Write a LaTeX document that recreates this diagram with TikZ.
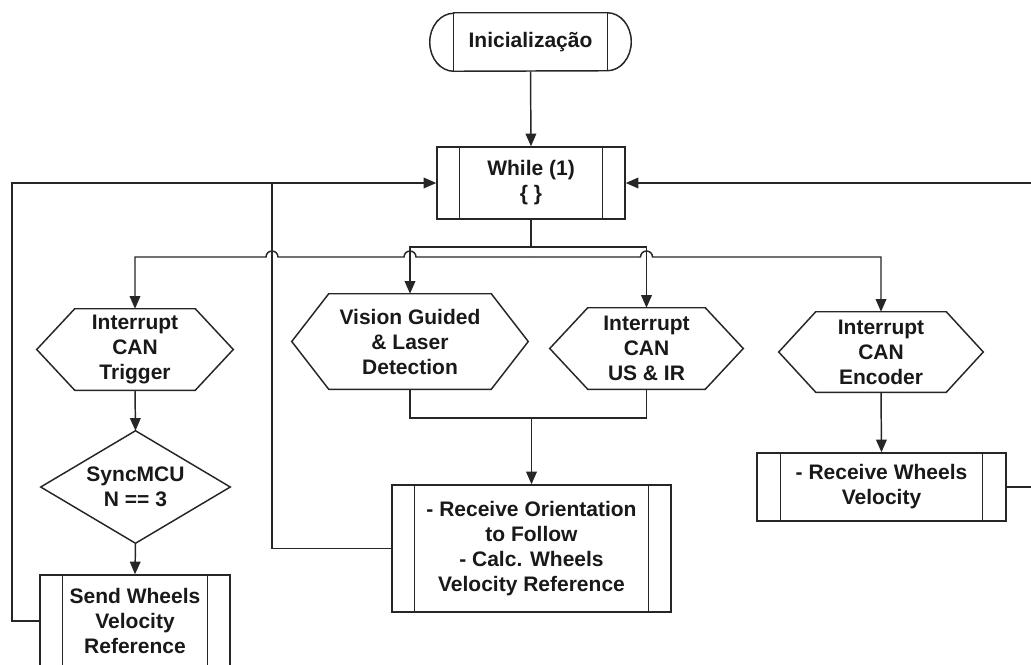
\documentclass[tikz,border=0pt]{standalone}
\usepackage{fontspec}
\setmainfont{Liberation Sans}
\usetikzlibrary{arrows.meta,calc}
\tikzset{
  ln/.style={line width=1.1pt, draw=black!85},
  arr/.style={ln, -{Triangle[length=9.5pt,width=8pt]}},
  txt/.style={inner sep=0pt, align=center, text=black!90,
    font=\fontsize{15.75pt}{18.75pt}\selectfont\bfseries},
  proc/.style={txt, rectangle, ln},
  blank/.style={txt, rectangle, draw=none},
}
\newcommand{\hexa}[2]{\draw[ln] (#1.west) -- ($(#1.north west)+(#2,0)$) -- ($(#1.north east)+(-#2,0)$) -- (#1.east) -- ($(#1.south east)+(-#2,0)$) -- ($(#1.south west)+(#2,0)$) -- cycle;}
\newcommand{\inner}[2]{\draw[ln] ($(#1.north west)+(#2,0)$) -- ($(#1.south west)+(#2,0)$) ($(#1.north east)+(-#2,0)$) -- ($(#1.south east)+(-#2,0)$);}
\begin{document}
\begin{tikzpicture}[x=0.75pt,y=-0.75pt]
\useasboundingbox (0,0) rectangle (1031,664);
\clip (0,0) rectangle (1031,664);
\fill[white] (0,0) rectangle (1031,664);

% nodes
\node[blank, minimum width=150.75pt, minimum height=43.5pt] (init) at (530.5,42) {Inicialização};
\node[proc, minimum width=141pt, minimum height=54pt] (while) at (531,183) {While (1)\\\{ \}};
\node[blank, minimum width=147pt, minimum height=60.75pt] (trig) at (135,349.5) {Interrupt\\CAN\\Trigger};
\node[blank, minimum width=177pt, minimum height=71.25pt] (vis) at (410,341.5) {Vision Guided\\\& Laser\\Detection};
\node[blank, minimum width=144.75pt, minimum height=60.75pt] (us) at (646.5,348.5) {Interrupt\\CAN\\US \& IR};
\node[blank, minimum width=153pt, minimum height=60pt] (enc) at (881,352) {Interrupt\\CAN\\Encoder};
\node[blank, minimum width=141.75pt, minimum height=84pt] (dia) at (135.5,487) {SyncMCU\\N == 3};
\node[proc, minimum width=142.5pt, minimum height=69pt] (send) at (135,621) {Send Wheels\\Velocity\\Reference};
\node[proc, minimum width=209.25pt, minimum height=95.25pt] (calc) at (531.5,548.5) {- Receive Orientation\\to Follow\\- Calc. Wheels\\Velocity Reference};
\node[proc, minimum width=186.75pt, minimum height=51pt] (recv) at (881.5,487) {- Receive Wheels\\Velocity};

% shapes
\draw[ln] ($(init.north west)+(24,0)$) -- ($(init.north east)+(-24,0)$)
  arc[start angle=-90,end angle=90,x radius=24,y radius=29]
  -- ($(init.south west)+(24,0)$)
  arc[start angle=90,end angle=270,x radius=24,y radius=29] -- cycle;
\draw[ln] ($(init.north west)+(24,0)$) -- ($(init.south west)+(24,0)$)
  ($(init.north east)+(-24,0)$) -- ($(init.south east)+(-24,0)$);
\inner{while}{23}
\inner{send}{23}
\inner{calc}{23}
\inner{recv}{24}
\hexa{trig}{38}
\hexa{vis}{37}
\hexa{us}{38}
\hexa{enc}{37}
\draw[ln] (dia.north) -- (dia.east) -- (dia.south) -- (dia.west) -- cycle;

% coordinates
\coordinate (split) at (531,247);
\coordinate (bus) at (531,257);
\coordinate (join) at (531.5,418);
\coordinate (ret) at (272,183);
\coordinate (lret) at (12,183);
\coordinate (rret) at (1040,183);

% connectors
\draw[arr] (init.south) -- (while.north);
\draw[ln] (while.south) -- (split);
\draw[arr] (split) -| (vis.north);
\draw[arr] (split) -| (us.north);
\draw[arr] (bus) -- (416,257) arc[start angle=0,end angle=-180,radius=6]
  -- (278,257) arc[start angle=0,end angle=-180,radius=6] -- (135,257) -- (trig.north);
\draw[arr] (bus) -- (640.5,257) arc[start angle=180,end angle=360,radius=6] -- (881,257) -- (enc.north);
\draw[ln] (vis.south) |- (join);
\draw[ln] (us.south) |- (join);
\draw[arr] (join) -- (calc.north);
\draw[arr] (trig.south) -- (dia.north);
\draw[arr] (dia.south) -- (send.north);
\draw[arr] (enc.south) -- (recv.north);
\draw[ln] (calc.west) -| (ret);
\draw[arr] (send.west) -| (lret) -- (while.west);
\draw[arr] (recv.east) -| (rret) -- (while.east);
\end{tikzpicture}
\end{document}
